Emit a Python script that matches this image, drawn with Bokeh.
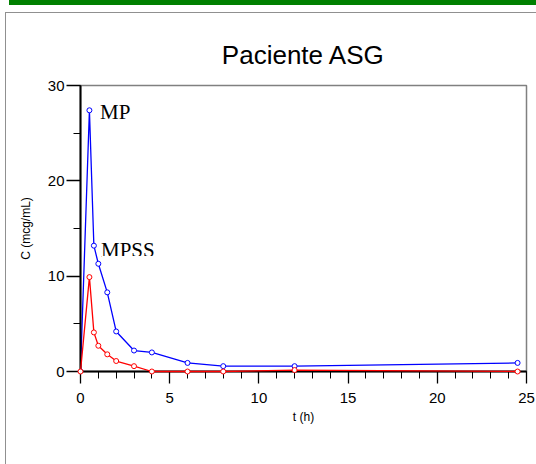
from bokeh.plotting import figure
from bokeh.models import Range1d, Label, BoxAnnotation, SingleIntervalTicker, Title
from bokeh.embed import file_html
from bokeh.resources import INLINE

# ---- data ----
t_mp = [0, 0.5, 0.75, 1, 1.5, 2, 3, 4, 6, 8, 12, 24.5]
c_mp = [0, 27.4, 13.2, 11.3, 8.3, 4.2, 2.2, 2.0, 0.9, 0.56, 0.56, 0.9]
t_mpss = [0, 0.5, 0.75, 1, 1.5, 2, 3, 4, 6, 8, 12, 24.5]
c_mpss = [0, 9.9, 4.1, 2.7, 1.8, 1.1, 0.56, 0, 0, 0, 0.15, 0]
series_names = ["MP", "MPSS"]
title_text = "Paciente ASG"
x_label = "t (h)"
y_label = "C (mcg/mL)"

W, H = 536, 464
p = figure(width=W, height=H, output_backend="svg", toolbar_location=None,
           x_range=Range1d(0, 25), y_range=Range1d(0, 30),
           min_border_left=80, min_border_right=10, min_border_top=85, min_border_bottom=93)
p.background_fill_color = "white"
p.border_fill_color = None
p.styles = {
    "background": (
        "linear-gradient(#008000,#008000) 9px 0px / 540px 5px no-repeat, "
        "linear-gradient(to right, transparent 5px, #909090 5px, #909090 6px, transparent 6px) "
        "0px 12px / 100% 100% no-repeat, "
        "linear-gradient(to bottom, transparent 12px, #909090 12px, #909090 13px, transparent 13px) "
        "5px 0px / 100% 100% no-repeat, "
        "white"),
}
p.grid.visible = False
p.outline_line_color = "#808080"
p.outline_line_width = 1.5

# title (a thin spacer panel first, so the title sits a little higher)
p.title = None
p.add_layout(Title(text=" ", text_font_size="1px", standoff=8,
                   border_line_color=None, background_fill_color=None), "above")
p.add_layout(Title(text=title_text, align="center", text_font="Liberation Sans",
                   text_font_size="26px", text_font_style="normal",
                   text_color="black", border_line_color=None,
                   background_fill_color=None), "above")

# axes
p.xaxis.ticker = SingleIntervalTicker(interval=5, num_minor_ticks=5)
p.yaxis.ticker = SingleIntervalTicker(interval=10, num_minor_ticks=2)
for ax in (p.xaxis[0], p.yaxis[0]):
    ax.axis_line_color = "black"
    ax.axis_line_width = 2
    ax.major_tick_line_color = "black"
    ax.minor_tick_line_color = "black"
    ax.major_tick_line_width = 1.3
    ax.minor_tick_line_width = 1
    ax.major_tick_in = 0
    ax.minor_tick_in = 0
    ax.major_label_text_font = "Liberation Sans"
    ax.major_label_text_font_size = "15px"
    ax.major_label_text_color = "black"
    ax.axis_label_text_font = "Liberation Sans"
    ax.axis_label_text_font_size = "12px"
    ax.axis_label_text_font_style = "normal"
    ax.axis_label_text_color = "black"
p.xaxis.major_tick_out = 12
p.xaxis.minor_tick_out = 7
p.yaxis.major_tick_out = 14
p.yaxis.minor_tick_out = 7
p.xaxis.major_label_standoff = 9
p.yaxis.major_label_standoff = 2
p.xaxis.axis_label = x_label
p.yaxis.axis_label = y_label
p.xaxis.axis_label_standoff = 4
p.yaxis.axis_label_standoff = 12

# series
r1 = p.line(t_mp, c_mp, line_color="#0000FF", line_width=1.3)
r2 = p.scatter(t_mp, c_mp, marker="circle", size=5, line_color="#0000FF",
               fill_color="white", line_width=1)
r3 = p.line(t_mpss, c_mpss, line_color="#FF0000", line_width=1.3)
r4 = p.scatter(t_mpss, c_mpss, marker="circle", size=5, line_color="#FF0000",
               fill_color="white", line_width=1)
for r in (r3, r4):
    r.level = "overlay"

# series labels
p.add_layout(Label(x=1.1, y=27.2, text=series_names[0], text_font="Liberation Serif",
                   text_font_size="21px", text_color="black", text_baseline="alphabetic"))
p.add_layout(Label(x=1.15, y=12.7, text=series_names[1], text_font="Liberation Serif",
                   text_font_size="21px", text_color="black", text_baseline="alphabetic"))
# the reference clips the bottom of the "MPSS" text
p.add_layout(BoxAnnotation(left=1.19, right=5, top=12.12, bottom=11.45,
                           fill_color="white", fill_alpha=1, line_color=None,
                           level="annotation"))

open("out.html", "w").write(file_html(p, INLINE))
